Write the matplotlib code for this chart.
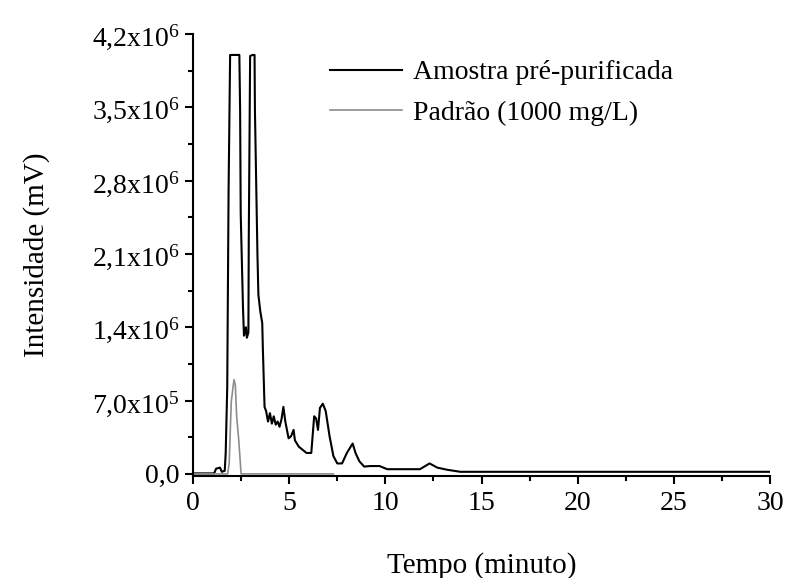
import matplotlib
matplotlib.use('Agg')
import matplotlib.pyplot as plt

plt.rcParams['font.family'] = 'Liberation Serif'
plt.rcParams['mathtext.fontset'] = 'custom'
plt.rcParams['mathtext.rm'] = 'Liberation Serif'
plt.rcParams['mathtext.it'] = 'Liberation Serif:italic'

# amostra pre-purificada (tempo em min, intensidade em mV)
t_amostra = [0.0, 1.1, 1.2, 1.4, 1.5, 1.65, 1.7, 1.78, 1.85, 1.93, 2.41, 2.45, 2.48,
             2.6, 2.65, 2.75, 2.8, 2.88, 2.9, 2.97, 3.1, 3.2, 3.22, 3.35, 3.4, 3.5,
             3.6, 3.63, 3.72, 3.8, 3.9, 4.0, 4.1, 4.2, 4.3, 4.4, 4.5, 4.6, 4.7, 4.8,
             4.97, 5.1, 5.23, 5.3, 5.5, 5.9, 6.15, 6.3, 6.4, 6.5, 6.6, 6.75, 6.9,
             7.1, 7.3, 7.5, 7.75, 8.0, 8.3, 8.45, 8.65, 8.9, 9.2, 9.7, 10.1, 11.8,
             12.3, 12.7, 13.2, 13.9, 30.0]
i_amostra = [0.005, 0.005, 0.05, 0.06, 0.02, 0.03, 0.2, 0.83, 2.71, 4.0, 4.0, 3.47, 2.49,
             1.58, 1.32, 1.40, 1.30, 1.35, 2.25, 3.99, 4.0, 4.0, 3.47, 2.1, 1.71, 1.55,
             1.44, 1.21, 0.64, 0.60, 0.50, 0.58, 0.48, 0.55, 0.47, 0.50, 0.45, 0.52, 0.64, 0.50,
             0.34, 0.36, 0.42, 0.32, 0.26, 0.20, 0.20, 0.55, 0.53, 0.42, 0.63, 0.67, 0.60,
             0.36, 0.17, 0.10, 0.10, 0.20, 0.29, 0.20, 0.12, 0.07, 0.075, 0.075, 0.045, 0.045,
             0.10, 0.06, 0.04, 0.02, 0.02]

# padrao 1000 mg/L
t_padrao = [0.0, 1.8, 1.88, 1.99, 2.13, 2.2, 2.27, 2.38, 2.5, 7.3]
i_padrao = [0.0, 0.0, 0.10, 0.69, 0.90, 0.85, 0.55, 0.32, 0.0, 0.0]

yticks = [0, 0.7e6, 1.4e6, 2.1e6, 2.8e6, 3.5e6, 4.2e6]
ytick_labels = ['0,0', '7,0x10$^{5}$', '1,4x10$^{6}$', '2,1x10$^{6}$',
                '2,8x10$^{6}$', '3,5x10$^{6}$', '4,2x10$^{6}$']

fig = plt.figure(figsize=(7.86, 5.78), dpi=100)
ax = fig.add_axes([193/786, 102/578, 577/786, 442/578])

ax.plot(t_amostra, [v*1e6 for v in i_amostra], color='black', lw=1.5,
        label='Amostra pré-purificada')
ax.plot(t_padrao, [v*1e6 for v in i_padrao], color='#8c8c8c', lw=1.2,
        label='Padrão (1000 mg/L)')

ax.set_xlim(0, 30)
ax.set_ylim(-2e4, 4.2e6)
ax.set_xticks(range(0, 31, 5))
ax.set_xticks([2.5 + 5*k for k in range(6)], minor=True)
ax.set_yticks(yticks)
ax.set_yticklabels(ytick_labels)
ax.set_yticks([0.35e6 + 0.7e6*k for k in range(6)], minor=True)

for s in ['top', 'right']:
    ax.spines[s].set_visible(False)
for s in ['left', 'bottom']:
    ax.spines[s].set_linewidth(1.5)
ax.tick_params(which='major', direction='out', length=6, width=1.5, labelsize=20)
ax.tick_params(which='minor', direction='out', length=3.5, width=1.5)
ax.tick_params(axis='x', pad=5)

ax.set_xlabel('Tempo (minuto)', fontsize=21, labelpad=26)
ax.set_ylabel('Intensidade (mV)', fontsize=21, labelpad=30)

ax.legend(loc='upper left', bbox_to_anchor=(330/786, 1 - 60/578),
          bbox_transform=fig.transFigure, frameon=False, fontsize=20,
          handlelength=2.6, handletextpad=0.4, labelspacing=0.55,
          borderpad=0, borderaxespad=0)

fig.savefig('out.png', dpi=100)
